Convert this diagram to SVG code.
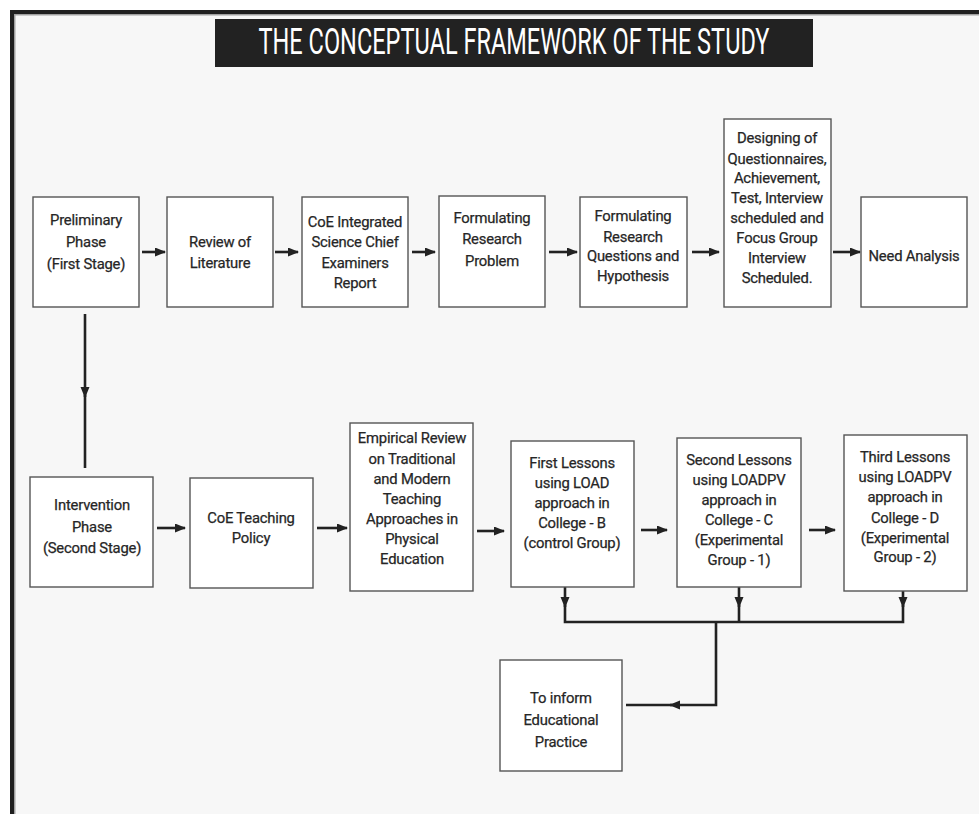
<svg xmlns="http://www.w3.org/2000/svg" width="979" height="814" viewBox="0 0 979 814">
<style>
.box{fill:#ffffff;stroke:#555555;stroke-width:1.4}
.t{font-family:Roboto,"Liberation Sans",sans-serif;font-size:14.8px;font-weight:400;letter-spacing:-0.2px;fill:#262626;text-anchor:middle;stroke:#262626;stroke-width:0.25}
.c{fill:none;stroke:#222222;stroke-width:2.6}
.ttl{font-family:Roboto,"Liberation Sans",sans-serif;font-size:36px;fill:#ffffff}
</style>
<defs>
<marker id="ah" markerUnits="userSpaceOnUse" markerWidth="12" markerHeight="10" refX="10" refY="4.5" orient="auto">
<path d="M0,0 L11,4.5 L0,9 z" fill="#222222"/>
</marker>
</defs>
<rect x="0" y="0" width="979" height="814" fill="#ffffff"/>
<rect x="10" y="10" width="969" height="804" fill="#1f1f1f"/>
<rect x="14" y="14" width="965" height="800" fill="#a0a0a0"/>
<rect x="15.5" y="15.5" width="963.5" height="798.5" fill="#f7f7f7"/>
<g id="title">
<rect x="215" y="19" width="598" height="48" fill="#222222"/>
<text class="ttl" x="514" y="54" text-anchor="middle" textLength="511" lengthAdjust="spacingAndGlyphs">THE CONCEPTUAL FRAMEWORK OF THE STUDY</text>
</g>
<g id="connectors">
<path class="c" d="M142,252 H165" marker-end="url(#ah)"/>
<path class="c" d="M275,252 H298" marker-end="url(#ah)"/>
<path class="c" d="M412,252 H435" marker-end="url(#ah)"/>
<path class="c" d="M549,252 H577" marker-end="url(#ah)"/>
<path class="c" d="M692,252 H719" marker-end="url(#ah)"/>
<path class="c" d="M833,252 H860" marker-end="url(#ah)"/>
<path class="c" d="M85,314 V397" marker-end="url(#ah)"/>
<path class="c" d="M85,395 V468"/>
<path class="c" d="M157,528 H185" marker-end="url(#ah)"/>
<path class="c" d="M317,528 H347" marker-end="url(#ah)"/>
<path class="c" d="M477,531 H504" marker-end="url(#ah)"/>
<path class="c" d="M641,530 H667" marker-end="url(#ah)"/>
<path class="c" d="M809,530 H835" marker-end="url(#ah)"/>
<path class="c" d="M565,587 V607" marker-end="url(#ah)"/>
<path class="c" d="M739,587 V607" marker-end="url(#ah)"/>
<path class="c" d="M903,591 V607" marker-end="url(#ah)"/>
<path class="c" d="M565,605 V622 H903 V605"/>
<path class="c" d="M739,605 V622"/>
<path class="c" d="M716,622 V705 H670" marker-end="url(#ah)"/>
<path class="c" d="M672,705 H626"/>
</g>
<g id="n1"><rect class="box" x="33" y="197" width="106" height="110"/>
<text class="t"><tspan x="86" y="225">Preliminary</tspan><tspan x="86" y="247">Phase</tspan><tspan x="86" y="269">(First Stage)</tspan></text></g>
<g id="n2"><rect class="box" x="167" y="197" width="106" height="110"/>
<text class="t"><tspan x="220" y="247">Review of</tspan><tspan x="220" y="268">Literature</tspan></text></g>
<g id="n3"><rect class="box" x="302" y="197" width="106" height="110"/>
<text class="t"><tspan x="355" y="227">CoE Integrated</tspan><tspan x="355" y="247">Science Chief</tspan><tspan x="355" y="268">Examiners</tspan><tspan x="355" y="288">Report</tspan></text></g>
<g id="n4"><rect class="box" x="439" y="196" width="106" height="111"/>
<text class="t"><tspan x="492" y="223">Formulating</tspan><tspan x="492" y="244">Research</tspan><tspan x="492" y="266">Problem</tspan></text></g>
<g id="n5"><rect class="box" x="580" y="197" width="107" height="110"/>
<text class="t"><tspan x="633" y="221">Formulating</tspan><tspan x="633" y="242">Research</tspan><tspan x="633" y="261">Questions and</tspan><tspan x="633" y="281">Hypothesis</tspan></text></g>
<g id="n6"><rect class="box" x="724" y="119" width="107" height="188"/>
<text class="t"><tspan x="777" y="143">Designing of</tspan><tspan x="777" y="164">Questionnaires,</tspan><tspan x="777" y="183">Achievement,</tspan><tspan x="777" y="203">Test, Interview</tspan><tspan x="777" y="223">scheduled and</tspan><tspan x="777" y="243">Focus Group</tspan><tspan x="777" y="263">Interview</tspan><tspan x="777" y="283">Scheduled.</tspan></text></g>
<g id="n7"><rect class="box" x="861" y="197" width="106" height="110"/>
<text class="t"><tspan x="914" y="261">Need Analysis</tspan></text></g>
<g id="n8"><rect class="box" x="30" y="477" width="123" height="110"/>
<text class="t"><tspan x="92" y="510">Intervention</tspan><tspan x="92" y="532">Phase</tspan><tspan x="92" y="553">(Second Stage)</tspan></text></g>
<g id="n9"><rect class="box" x="190" y="478" width="123" height="110"/>
<text class="t"><tspan x="251" y="523">CoE Teaching</tspan><tspan x="251" y="543">Policy</tspan></text></g>
<g id="n10"><rect class="box" x="350" y="423" width="123" height="168"/>
<text class="t"><tspan x="412" y="443">Empirical Review</tspan><tspan x="412" y="464">on Traditional</tspan><tspan x="412" y="484">and Modern</tspan><tspan x="412" y="504">Teaching</tspan><tspan x="412" y="524">Approaches in</tspan><tspan x="412" y="544">Physical</tspan><tspan x="412" y="564">Education</tspan></text></g>
<g id="n11"><rect class="box" x="511" y="441" width="123" height="146"/>
<text class="t"><tspan x="572" y="468">First Lessons</tspan><tspan x="572" y="488">using LOAD</tspan><tspan x="572" y="508">approach in</tspan><tspan x="572" y="528">College - B</tspan><tspan x="572" y="548">(control Group)</tspan></text></g>
<g id="n12"><rect class="box" x="677" y="438" width="124" height="149"/>
<text class="t"><tspan x="739" y="465">Second Lessons</tspan><tspan x="739" y="485">using LOADPV</tspan><tspan x="739" y="505">approach in</tspan><tspan x="739" y="525">College - C</tspan><tspan x="739" y="545">(Experimental</tspan><tspan x="739" y="565">Group - 1)</tspan></text></g>
<g id="n13"><rect class="box" x="844" y="435" width="123" height="156"/>
<text class="t"><tspan x="905" y="462">Third Lessons</tspan><tspan x="905" y="482">using LOADPV</tspan><tspan x="905" y="502">approach in</tspan><tspan x="905" y="523">College - D</tspan><tspan x="905" y="543">(Experimental</tspan><tspan x="905" y="562">Group - 2)</tspan></text></g>
<g id="n14"><rect class="box" x="500" y="660" width="122" height="111"/>
<text class="t"><tspan x="561" y="703">To inform</tspan><tspan x="561" y="725">Educational</tspan><tspan x="561" y="747">Practice</tspan></text></g>
</svg>
